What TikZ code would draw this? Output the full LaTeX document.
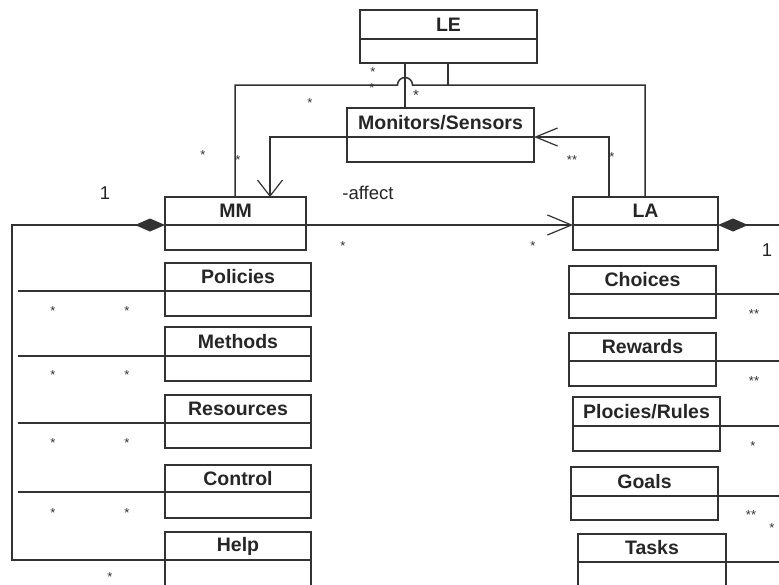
\documentclass[tikz,border=0pt]{standalone}
\usepackage{fontspec}
\setmainfont{Liberation Sans}
\usetikzlibrary{arrows.meta}
\definecolor{ln}{RGB}{50,50,50}
\tikzset{
 cls/.style={draw=ln, line width=1.5pt, inner sep=0pt, outer sep=0pt, anchor=north west, font=\fontsize{19.5}{20}\selectfont\bfseries, text=black!85},
 conn/.style={draw=ln, line width=1.5pt},
 mult/.style={font=\fontsize{13}{13}\selectfont, inner sep=0pt, text=black!80},
 lbl/.style={font=\fontsize{18.5}{19}\selectfont, inner sep=0pt, text=black!85},
 openarrow/.style={-{Straight Barb[length=16pt,width=25pt,line width=1.2pt]}},
 comp/.style={{Diamond[length=30pt,width=13pt]}-},
}
\newcommand{\umlbox}[7]{%
 \node[cls, minimum width={(#3-#2)*1pt}, minimum height={(#5-#4)*1pt}] (#1) at (#2,-#4) {#7};
 \node[cls, minimum width={(#3-#2)*1pt}, minimum height={(#6-#5)*1pt}] (#1-b) at (#2,-#5) {};
}
\begin{document}
\begin{tikzpicture}[x=1pt,y=1pt]
\clip (0,0) rectangle (779,-584);
\fill[white] (0,0) rectangle (779,-584);
% classes
\umlbox{LE}{360}{537}{10}{39}{63}{LE}
\umlbox{Mon}{347}{534}{108}{137}{162}{Monitors/Sensors}
\umlbox{MM}{165}{306}{197}{225}{250}{MM}
\umlbox{LA}{573}{718}{197}{225}{250}{LA}
\umlbox{Pol}{165}{311}{263}{291}{316}{Policies}
\umlbox{Met}{165}{311}{327}{356}{381}{Methods}
\umlbox{Res}{165}{311}{395}{423}{448}{Resources}
\umlbox{Con}{165}{311}{465}{492}{518}{Control}
\umlbox{Help}{165}{311}{532}{560}{600}{Help}
\umlbox{Cho}{569}{716}{266}{294}{318}{Choices}
\umlbox{Rew}{569}{716}{333}{361}{386}{Rewards}
\umlbox{PR}{573}{720}{397}{426}{451}{Plocies/Rules}
\umlbox{Goa}{571}{718}{467}{496}{520}{Goals}
\umlbox{Tas}{578}{726}{534}{562}{600}{Tasks}
% helper coordinates
\coordinate (xa) at (235,0);
\coordinate (xb) at (405,0);
\coordinate (xc) at (448,0);
\coordinate (xd) at (645,0);
\coordinate (xe) at (270,0);
\coordinate (xf) at (609,0);
\coordinate (hy) at (0,-85);
\coordinate (lp) at (18,0);
\coordinate (lc) at (12,0);
\coordinate (rp) at (795,0);
% LE associations
\draw[conn] (LE-b.south west -| xb) -- (Mon.north west -| xb);
\draw[conn] (MM.north west -| xa) -- (xa |- hy) -- (397.5,-85) arc[start angle=180,end angle=0,radius=7.5] -- (xd |- hy) -- (LA.north west -| xd);
\draw[conn, line width=2.6pt] (LE-b.south west -| xc) -- (xc |- hy);
% Monitors -> MM
\draw[conn, openarrow] (Mon.south west) -- (Mon.south west -| xe) -- (MM.north west -| xe);
% LA -> Monitors
\draw[conn, -{Straight Barb[length=22pt,width=18pt,line width=1.2pt]}] (LA.north west -| xf) -- (xf |- Mon.south east) -- (Mon.south east);
% MM -> LA
\draw[conn, -{Straight Barb[length=24pt,width=20pt,line width=1.2pt]}] (MM.south east) -- (LA.south west);
% compositions
\draw[conn, comp] (MM.south west) -- (MM.south west -| lc) -- (lc |- Help.south west) -- (Help.south west);
\draw[conn, comp] (LA.south east) -- (LA.south east -| rp) -- (rp |- Tas-b.south east);
% part lines left
\foreach \n in {Pol,Met,Res,Con}{
 \draw[conn] (\n.south west -| lp) -- (\n.south west);
}
% part lines right
\foreach \n in {Cho,Rew,PR,Goa,Tas}{
 \draw[conn] (\n.south east) -- (\n.south east -| rp);
}
% labels
\node[lbl] (l1) at (105,-193) {1};
\node[lbl] (laff) at (368,-193) {-affect};
\node[lbl] (r1) at (767,-250) {1};
% multiplicities
\node[mult] (s1) at (373,-72) {*};
\node[mult] (s2) at (372,-88) {*};
\node[mult, font=\fontsize{15}{15}\selectfont] (s3) at (416,-95) {*};
\node[mult] (s4) at (310,-103) {*};
\node[mult] (s5) at (203,-155) {*};
\node[mult] (s6) at (238,-160) {*};
\node[mult] (s7) at (572,-160) {**};
\node[mult] (s8) at (612,-157) {*};
\node[mult] (s9) at (343,-246) {*};
\node[mult] (s10) at (533,-246) {*};
\foreach \y [count=\i] in {311,375,443,513}{
 \node[mult] (pl\i) at (53,-\y) {*};
 \node[mult] (pr\i) at (127,-\y) {*};
}
\node[mult] (hs) at (110,-577) {*};
\node[mult] (c1) at (754,-314) {**};
\node[mult] (c2) at (754,-381) {**};
\node[mult] (c3) at (753,-446) {*};
\node[mult] (c4) at (751,-515) {**};
\node[mult] (c5) at (772,-528) {*};
\end{tikzpicture}
\end{document}
